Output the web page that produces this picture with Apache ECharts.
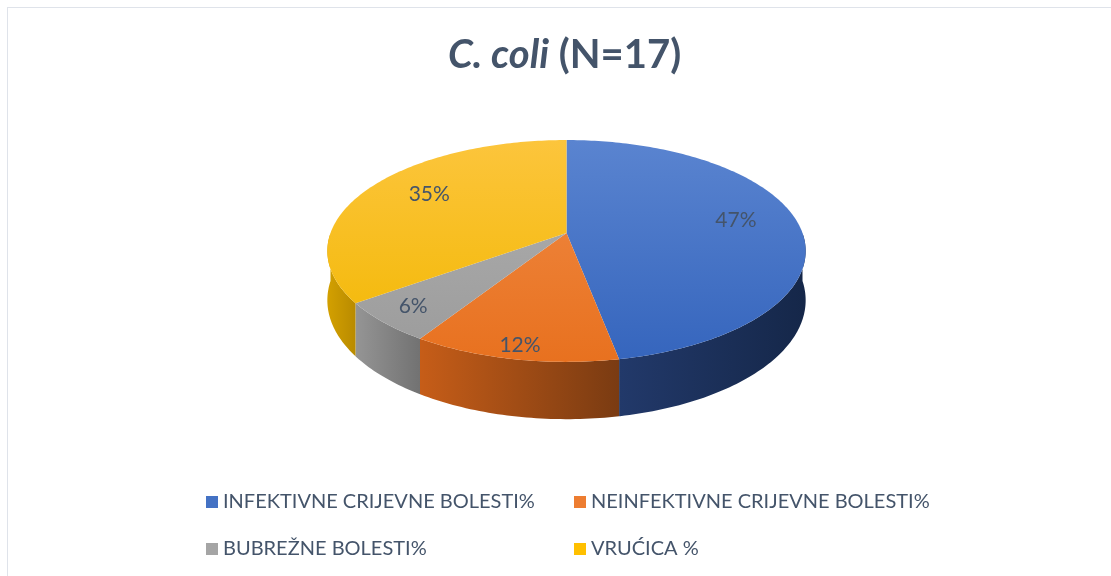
<!DOCTYPE html>
<html>
<head>
<meta charset="utf-8">
<script src="https://cdn.jsdelivr.net/npm/echarts@6/dist/echarts.min.js"></script>
<style>
  html,body{margin:0;padding:0;background:#fff;}
  #main{width:1111px;height:576px;position:relative;}
  #frame{position:absolute;left:7px;top:7px;right:-2px;bottom:-2px;border:1px solid #dfe3ea;pointer-events:none;}
</style>
</head>
<body>
<div id="main"></div>
<div id="frame"></div>
<script>
// podaci
var categories = ['INFEKTIVNE CRIJEVNE BOLESTI%', 'NEINFEKTIVNE CRIJEVNE BOLESTI%', 'BUBREŽNE BOLESTI%', 'VRUĆICA %'];
var values = [47, 12, 6, 35];
var topColors = [['#5a84d0', '#3565bd'], ['#f08b46', '#e8711f'], ['#b0b0b0', '#9b9b9b'], ['#fcc53c', '#f2b700']];
var sideColors = [['#22396a', '#152749'], ['#c65d18', '#7a3b12'], ['#959595', '#727272'], ['#d3a000', '#b98b00']];
var legendColors = ['#4472c4', '#ed7d31', '#a5a5a5', '#ffc000'];

// geometrija "3D" pite
var cx = 566.5, cy = 233, rx = 236, ry = 108, persp = 0.162, depth = 48;

function proj(phiDeg, r, down){
    var a = phiDeg * Math.PI / 180;
    var u = Math.sin(a) * r, v = -Math.cos(a) * r;
    var f = 1 / (1 - persp * v);
    return [cx + rx * u * f, cy + ry * v * f + (down ? depth * f : 0)];
}

// položaj oznake (kao u Excelu, malo jača perspektiva)
function labelPos(phiDeg){
    var a = phiDeg * Math.PI / 180;
    var u = Math.sin(a), v = -Math.cos(a);
    var f = 1 / (1 - 0.3 * v);
    return [cx + 175 * u * f, cy - 5 + 84 * v * f];
}

var total = values.reduce(function(s, v){ return s + v; }, 0);

function renderSlice(params, api){
    var idx = params.seriesIndex;
    var before = 0;
    for (var i = 0; i < idx; i++) before += values[i];
    var a0 = before / total * 360;
    var a1 = (before + api.value(0)) / total * 360;
    var children = [];

    // gornja ploha
    var pts = [[cx, cy]];
    for (var a = a0; a < a1; a += 1) pts.push(proj(a, 1));
    pts.push(proj(a1, 1));
    children.push({
        type: 'polygon', z2: 10,
        shape: {points: pts},
        style: {fill: {type: 'linear', x: 0, y: 140, x2: 0, y2: 362, global: true,
            colorStops: [{offset: 0, color: topColors[idx][0]}, {offset: 1, color: topColors[idx][1]}]}}
    });

    // bočna stijenka (samo prednja strana)
    var s0 = Math.max(a0, 90), s1 = Math.min(a1, 270);
    if (s1 > s0) {
        var top = [], bot = [];
        for (var b = s0; b < s1; b += 1) { top.push(proj(b, 1)); bot.push(proj(b, 1, true)); }
        top.push(proj(s1, 1)); bot.push(proj(s1, 1, true));
        children.push({
            type: 'polygon', z2: 1,
            shape: {points: top.concat(bot.reverse())},
            style: {fill: {type: 'linear', x: 0, y: 0, x2: 1, y2: 0,
                colorStops: [{offset: 0, color: sideColors[idx][0]}, {offset: 1, color: sideColors[idx][1]}]}}
        });
    }

    // oznaka
    var lp = labelPos((a0 + a1) / 2);
    children.push({
        type: 'text', z2: 20,
        x: lp[0], y: lp[1],
        style: {text: Math.round(api.value(0) / total * 100) + '%', fill: '#44546a',
            font: '21px Lato', align: 'center', verticalAlign: 'middle'}
    });
    return {type: 'group', children: children};
}

var chart = echarts.init(document.getElementById('main'));
var series = categories.map(function(name, i){
    return {
        name: name,
        type: 'custom',
        coordinateSystem: 'none',
        itemStyle: {color: legendColors[i]},
        renderItem: renderSlice,
        data: [[values[i]]],
        animation: false
    };
});

var legendText = {color: '#44546a', fontFamily: 'Lato', fontSize: 20, lineHeight: 20};
function legendCol(names, left){
    return {data: names, orient: 'vertical', left: left, top: 492, itemWidth: 12, itemHeight: 12, itemGap: 27,
            icon: 'rect', selectedMode: false, padding: 0, textStyle: legendText};
}
chart.setOption({
    title: {
        text: '{i|C. coli} {b|(N=17)}',
        left: 448, top: 35, padding: 0,
        textStyle: {
            fontFamily: 'Lato', fontSize: 40, fontWeight: 'bold', color: '#44546a',
            rich: {
                i: {fontFamily: 'Lato', fontSize: 40, fontWeight: 'bold', fontStyle: 'italic', color: '#44546a'},
                b: {fontFamily: 'Lato', fontSize: 40, fontWeight: 'bold', color: '#44546a'}
            }
        }
    },
    legend: [
        legendCol([categories[0], categories[2]], 206),
        legendCol([categories[1], categories[3]], 574)
    ],
    series: series
});
</script>
</body>
</html>
